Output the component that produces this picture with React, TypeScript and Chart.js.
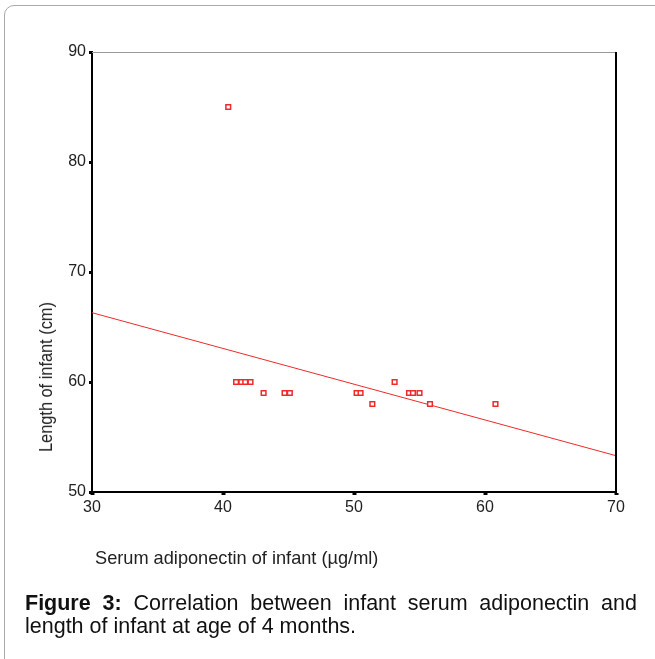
import React, { useEffect, useRef } from "react";
import { Chart, registerables } from "chart.js";

Chart.register(...registerables);

// Scatter data: serum adiponectin (µg/ml) vs length of infant (cm)
const adiponectin = [40.4, 41.0, 41.4, 41.7, 42.1, 53.1, 43.1, 44.7, 45.1, 50.2, 50.5, 54.2, 54.5, 55.0, 51.4, 55.8, 60.8];
const infantLength = [85, 60, 60, 60, 60, 60, 59, 59, 59, 59, 59, 59, 59, 59, 58, 58, 58];

// Fit line endpoints
const fitX = [30, 70];
const fitY = [66.3, 53.3];

const xTicks = [30, 40, 50, 60, 70];
const yTicks = [50, 60, 70, 80, 90];

const xTitle = "Serum adiponectin of infant (µg/ml)";
const yTitle = "Length of infant (cm)";
const captionBold = "Figure 3:";
const captionLine1 = " Correlation between infant serum adiponectin and";
const captionLine2 = "length of infant at age of 4 months.";

const FONT = "'Liberation Sans', Arial, Helvetica, sans-serif";
const RED = "#ee2a2a";

export default function App() {
  const canvasRef = useRef<HTMLCanvasElement | null>(null);

  useEffect(() => {
    const canvas = canvasRef.current;
    if (!canvas) return;

    const framePlugin = {
      id: "frame",
      afterDatasetsDraw(chart: any) {
        const { ctx, chartArea } = chart;
        ctx.save();
        ctx.strokeStyle = "#999";
        ctx.lineWidth = 1;
        ctx.beginPath();
        ctx.moveTo(chartArea.left, chartArea.top + 0.5);
        ctx.lineTo(chartArea.right, chartArea.top + 0.5);
        ctx.stroke();
        ctx.strokeStyle = "#000";
        ctx.lineWidth = 2;
        ctx.beginPath();
        ctx.moveTo(chartArea.right, chartArea.top);
        ctx.lineTo(chartArea.right, chartArea.bottom);
        ctx.stroke();
        ctx.restore();
      },
    };

    const chart = new Chart(canvas, {
      type: "scatter",
      data: {
        datasets: [
          {
            type: "scatter",
            data: adiponectin.map((x, i) => ({ x, y: infantLength[i] })),
            pointStyle: "rect",
            pointRadius: 3.3,
            borderColor: RED,
            backgroundColor: "#fff",
            borderWidth: 1.5,
          },
          {
            type: "line",
            data: fitX.map((x, i) => ({ x, y: fitY[i] })),
            borderColor: RED,
            borderWidth: 1,
            pointRadius: 0,
            fill: false,
          },
        ],
      } as any,
      options: {
        animation: false,
        responsive: false,
        maintainAspectRatio: false,
        layout: { padding: { left: 52, right: 39, top: 52, bottom: 137 } },
        plugins: { legend: { display: false }, tooltip: { enabled: false } },
        scales: {
          x: {
            type: "linear",
            min: 30,
            max: 70,
            afterBuildTicks: (scale: any) => {
              scale.ticks = xTicks.map((v) => ({ value: v }));
            },
            afterFit: (scale: any) => {
              scale.height = 30;
            },
            grid: { display: true, drawOnChartArea: false, drawTicks: true, tickLength: 3, tickWidth: 4, tickColor: "#000" },
            border: { display: true, color: "#000", width: 2 },
            ticks: { color: "#222", font: { family: FONT, size: 16 }, padding: 3, maxRotation: 0 },
          },
          y: {
            type: "linear",
            min: 50,
            max: 90,
            afterBuildTicks: (scale: any) => {
              scale.ticks = yTicks.map((v) => ({ value: v }));
            },
            afterFit: (scale: any) => {
              scale.width = 40;
            },
            grid: { display: true, drawOnChartArea: false, drawTicks: true, tickLength: 3, tickWidth: 3, tickColor: "#000" },
            border: { display: true, color: "#000", width: 2 },
            ticks: { color: "#222", font: { family: FONT, size: 16 }, padding: 3 },
          },
        },
      } as any,
      plugins: [framePlugin],
    });
    return () => chart.destroy();
  }, []);

  return (
    <div style={{ position: "absolute", left: 0, top: 0, width: 655, height: 659, overflow: "hidden", background: "#fff", fontFamily: FONT }}>
      <div style={{ position: "absolute", left: 4, top: 5, width: 720, height: 720, border: "1px solid #aaa", borderRadius: 10 }} />
      <canvas ref={canvasRef} width={655} height={659} style={{ position: "absolute", left: 0, top: 0, width: 655, height: 659 }} />
      <div
        style={{
          position: "absolute",
          left: 46,
          top: 377,
          transform: "translate(-50%, -50%) rotate(-90deg) scaleX(0.86)",
          whiteSpace: "nowrap",
          fontSize: 19,
          color: "#222",
          lineHeight: "20px",
        }}
      >
        {yTitle}
      </div>
      <div style={{ position: "absolute", left: 95, top: 546, whiteSpace: "nowrap", fontSize: 18.2, color: "#222", lineHeight: "24px" }}>
        {xTitle}
      </div>
      <div style={{ position: "absolute", left: 25, top: 592, width: 612, fontSize: 21.5, lineHeight: "23px", color: "#111" }}>
        <div style={{ textAlign: "justify", textAlignLast: "justify" as any, whiteSpace: "nowrap" as any }}>
          <span style={{ display: "block", textAlign: "justify", textAlignLast: "justify" as any, whiteSpace: "normal" }}>
            <b>{captionBold}</b>
            {captionLine1}
          </span>
        </div>
        <div>{captionLine2}</div>
      </div>
    </div>
  );
}
